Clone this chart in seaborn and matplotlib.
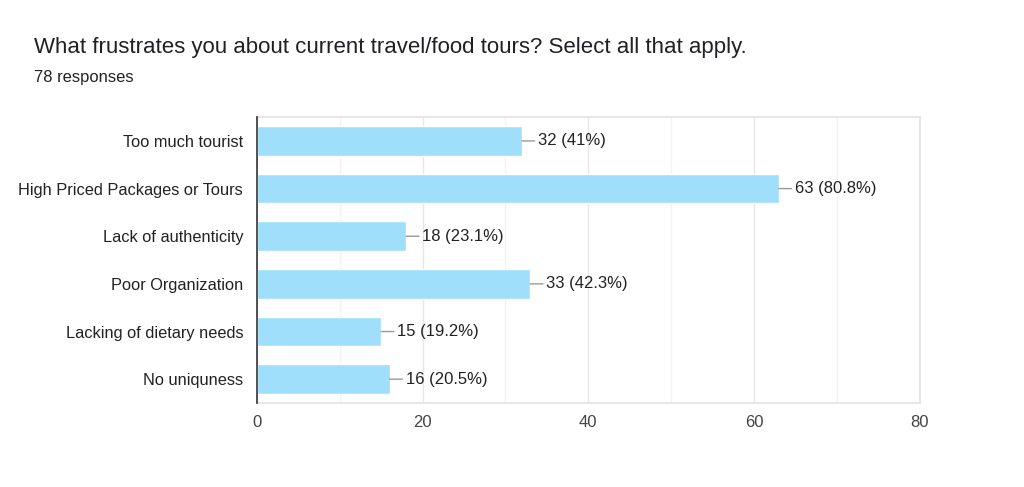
import matplotlib
matplotlib.use("Agg")
import matplotlib.pyplot as plt
import seaborn as sns
import pandas as pd
from matplotlib.ticker import MultipleLocator

categories = ["Too much tourist", "High Priced Packages or Tours", "Lack of authenticity",
              "Poor Organization", "Lacking of dietary needs", "No uniquness"]
counts = [32, 63, 18, 33, 15, 16]
percent_labels = ["41%", "80.8%", "23.1%", "42.3%", "19.2%", "20.5%"]
x_ticks = [0, 20, 40, 60, 80]

df = pd.DataFrame({"category": categories, "count": counts})

sns.set_theme(style="white")
plt.rcParams['font.family'] = ['Liberation Sans', 'DejaVu Sans']

fig = plt.figure(figsize=(10.24, 4.87), dpi=100)
ax = fig.add_axes([0.251, 0.1725, 0.647, 0.587])

sns.barplot(data=df, y="category", x="count", orient="h", color="#9fdffb",
            saturation=1, width=0.62, ax=ax, zorder=3)

ax.set_xlim(0, 80)
ax.set_xticks(x_ticks)
ax.xaxis.set_minor_locator(MultipleLocator(10))
ax.grid(axis="x", which="major", color="#e6e6e6", linewidth=1, zorder=0)
ax.grid(axis="x", which="minor", color="#f2f2f2", linewidth=1, zorder=0)
ax.set_axisbelow(True)
ax.set_xlabel("")
ax.set_ylabel("")

for side in ["top", "right", "bottom"]:
    ax.spines[side].set_color("#e3e3e3")
    ax.spines[side].set_linewidth(1.2)
ax.spines["left"].set_color("#333333")
ax.spines["left"].set_linewidth(1.2)
ax.spines["left"].set_zorder(5)

ax.tick_params(axis="x", which="both", length=0, labelsize=12, colors="#444444", pad=9)
ax.tick_params(axis="y", length=0, labelsize=11.8, colors="#222222", pad=10)

for i, (c, p) in enumerate(zip(counts, percent_labels)):
    ax.annotate(f"{c} ({p})", xy=(c, i), xytext=(11.5, 0), textcoords="offset points",
                va="center", ha="left", fontsize=12, color="#222222",
                arrowprops=dict(arrowstyle="-", color="#999999", lw=1,
                                shrinkA=0, shrinkB=0), zorder=6)

fig.text(34 / 1024, 1 - 48 / 487, "What frustrates you about current travel/food tours? Select all that apply.",
         fontsize=16, color="#202124", va="center", ha="left")
fig.text(34 / 1024, 1 - 77 / 487, "78 responses", fontsize=11.9, color="#202124",
         va="center", ha="left")

fig.savefig("out.png", dpi=100, facecolor="white")
